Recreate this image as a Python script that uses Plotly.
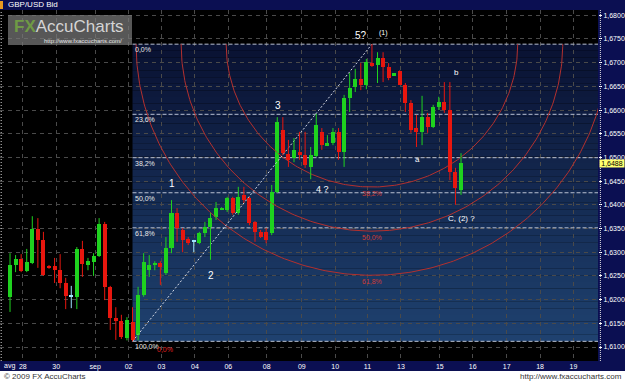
import math
import plotly.graph_objects as go

# ---------------- data (GBP/USD Bid, 4h candles) ----------------
opens = [
    1.6206, 1.6273, 1.6286, 1.6260, 1.6277, 1.6349, 1.6326, 1.6271, 1.6271, 1.6262,
    1.6235, 1.6206, 1.6206, 1.6307, 1.6273, 1.6279, 1.6292, 1.6360, 1.6227, 1.6161,
    1.6155, 1.6119, 1.6153, 1.6125, 1.6210, 1.6262, 1.6275, 1.6277, 1.6256, 1.6309,
    1.6383, 1.6347, 1.6328, 1.6322, 1.6319, 1.6341, 1.6353, 1.6374, 1.6391, 1.6389,
    1.6414, 1.6383, 1.6421, 1.6414, 1.6364, 1.6343, 1.6343, 1.6341, 1.6427, 1.6558,
    1.6507, 1.6499, 1.6511, 1.6505, 1.6480, 1.6503, 1.6554, 1.6526, 1.6530, 1.6554,
    1.6511, 1.6625, 1.6649, 1.6665, 1.6653, 1.6699, 1.6695, 1.6710, 1.6691, 1.6672,
    1.6682, 1.6653, 1.6615, 1.6562, 1.6554, 1.6585, 1.6564, 1.6606, 1.6617, 1.6600,
    1.6469, 1.6431]
highs = [
    1.6298, 1.6294, 1.6296, 1.6307, 1.6376, 1.6372, 1.6343, 1.6273, 1.6288, 1.6296,
    1.6246, 1.6229, 1.6311, 1.6324, 1.6288, 1.6298, 1.6372, 1.6364, 1.6229, 1.6184,
    1.6168, 1.6163, 1.6184, 1.6227, 1.6298, 1.6294, 1.6281, 1.6281, 1.6332, 1.6410,
    1.6393, 1.6351, 1.6332, 1.6326, 1.6343, 1.6364, 1.6383, 1.6406, 1.6395, 1.6417,
    1.6417, 1.6438, 1.6438, 1.6417, 1.6366, 1.6347, 1.6351, 1.6442, 1.6585, 1.6585,
    1.6537, 1.6541, 1.6554, 1.6554, 1.6522, 1.6592, 1.6562, 1.6547, 1.6562, 1.6562,
    1.6632, 1.6678, 1.6687, 1.6699, 1.6708, 1.6739, 1.6722, 1.6722, 1.6699, 1.6678,
    1.6684, 1.6657, 1.6621, 1.6590, 1.6630, 1.6594, 1.6611, 1.6628, 1.6659, 1.6659,
    1.6478, 1.6509]
lows = [
    1.6174, 1.6258, 1.6258, 1.6258, 1.6275, 1.6267, 1.6250, 1.6265, 1.6235, 1.6224,
    1.6180, 1.6182, 1.6180, 1.6248, 1.6262, 1.6250, 1.6290, 1.6199, 1.6136, 1.6115,
    1.6117, 1.6114, 1.6112, 1.6114, 1.6206, 1.6248, 1.6262, 1.6231, 1.6252, 1.6298,
    1.6322, 1.6300, 1.6315, 1.6300, 1.6317, 1.6332, 1.6284, 1.6368, 1.6389, 1.6385,
    1.6379, 1.6379, 1.6404, 1.6357, 1.6322, 1.6330, 1.6319, 1.6336, 1.6425, 1.6505,
    1.6480, 1.6490, 1.6495, 1.6478, 1.6454, 1.6501, 1.6516, 1.6524, 1.6526, 1.6495,
    1.6480, 1.6596, 1.6638, 1.6642, 1.6644, 1.6691, 1.6657, 1.6659, 1.6663, 1.6672,
    1.6653, 1.6596, 1.6552, 1.6522, 1.6526, 1.6552, 1.6562, 1.6600, 1.6594, 1.6452,
    1.6400, 1.6421]
closes = [
    1.6273, 1.6286, 1.6260, 1.6279, 1.6349, 1.6326, 1.6252, 1.6267, 1.6262, 1.6235,
    1.6208, 1.6206, 1.6307, 1.6275, 1.6281, 1.6292, 1.6360, 1.6227, 1.6161, 1.6155,
    1.6121, 1.6157, 1.6115, 1.6210, 1.6279, 1.6273, 1.6277, 1.6269, 1.6309, 1.6383,
    1.6351, 1.6326, 1.6319, 1.6322, 1.6341, 1.6353, 1.6372, 1.6393, 1.6393, 1.6414,
    1.6383, 1.6417, 1.6410, 1.6362, 1.6343, 1.6332, 1.6326, 1.6427, 1.6575, 1.6509,
    1.6495, 1.6516, 1.6505, 1.6484, 1.6505, 1.6568, 1.6526, 1.6530, 1.6554, 1.6511,
    1.6625, 1.6646, 1.6665, 1.6653, 1.6701, 1.6695, 1.6710, 1.6691, 1.6668, 1.6678,
    1.6653, 1.6615, 1.6558, 1.6554, 1.6585, 1.6564, 1.6606, 1.6617, 1.6600, 1.6469,
    1.6435, 1.6488]

tick_pos = [2.3, 8.3, 15.3, 21.3, 27.2, 33.2, 39.2, 46.1, 52.4, 58.4,
            64.2, 70.2, 77.2, 83.1, 89.2, 95.2, 101.2]
tick_text = ["28", "30", "sep", "02", "03", "04", "06", "08", "09", "10",
             "11", "13", "15", "16", "17", "18", "19"]

fib_ratios = [0.0, 0.236, 0.382, 0.5, 0.618, 1.0]
fib_labels = ["0,0%", "23,6%", "38,2%", "50,0%", "61,8%", "100,0%"]
arc_ratios = [0.382, 0.5, 0.618]
arc_labels = ["38,2%", "50,0%", "61,8%"]

wave_text = ["5?", "(1)", "3", "1", "2", "4 ?", "a", "b", "C, (2) ?"]
wave_x = [63.0, 67.0, 48.1, 29.1, 36.1, 56.2, 73.1, 80.1, 81.0]
wave_y = [1.6758, 1.6763, 1.6609, 1.6446, 1.6250, 1.6433, 1.6495, 1.6680, 1.6372]
wave_size = [10, 7, 10, 10, 10, 9, 8, 8, 8]

# ---------------- layout constants ----------------
W, H = 625, 382
ML, MR, MT, MB = 0, 27, 10, 21
PW, PH = W - ML - MR, H - MT - MB
XR = [-1.8, 105.6]
YR = [1.60705, 1.68111]
px_x = PW / (XR[1] - XR[0])
px_y = PH / (YR[1] - YR[0])
ARC_SQUASH = 0.98

NAVY = "#0b0f52"
GREEN = "#1fd21f"
RED = "#e8170f"
CYAN = "#9fe6ff"
ARC = "#b3302e"
FONT = "Liberation Sans"

idx = list(range(len(opens)))

def ccol(o, c):
    if c > o:
        return GREEN
    if c < o:
        return RED
    return CYAN

colors = [ccol(o, c) for o, c in zip(opens, closes)]
min_h = 1.0 / px_y
bases = [min(o, c) for o, c in zip(opens, closes)]
heights = [max(abs(c - o), min_h) for o, c in zip(opens, closes)]

# fibonacci from data extremes
lo_i = min(idx, key=lambda i: lows[i])
hi_i = max(idx, key=lambda i: highs[i])
lo, hi = lows[lo_i], highs[hi_i]
rng = hi - lo
dist = math.hypot((hi_i - lo_i) * px_x, rng * px_y)

fig = go.Figure()

# fib arcs (lower halves, centred on the swing high)
NA = 240
for r in arc_ratios:
    R = r * dist
    rx, ry = R / px_x, R * ARC_SQUASH / px_y
    ax, ay = [], []
    for k in range(NA + 1):
        t = math.pi + math.pi * k / NA
        ax.append(hi_i + rx * math.cos(t))
        ay.append(hi + ry * math.sin(t))
    fig.add_trace(go.Scatter(x=ax, y=ay, mode="lines",
                             line=dict(color=ARC, width=1), hoverinfo="skip"))

# trend line
fig.add_trace(go.Scatter(x=[lo_i, hi_i], y=[lo, hi], mode="lines",
                         line=dict(color="#d8dce8", width=1, dash="2px,2px"),
                         hoverinfo="skip"))

# wicks
for col in (GREEN, RED, CYAN):
    wx, wy = [], []
    for i in idx:
        if colors[i] == col:
            wx += [i, i, None]
            wy += [lows[i], highs[i], None]
    fig.add_trace(go.Scatter(x=wx, y=wy, mode="lines",
                             line=dict(color=col, width=1), hoverinfo="skip"))

# bodies
fig.add_trace(go.Bar(x=idx, y=heights, base=bases, width=0.72,
                     marker=dict(color=colors, line=dict(width=0))))

shapes = []
# gradient band
N = 45
c_top = (9, 17, 50)
c_bot = (31, 66, 112)
for k in range(N):
    t = (k + 0.5) / N
    col = tuple(int(round(c_top[j] + (c_bot[j] - c_top[j]) * t)) for j in range(3))
    y1 = hi - rng * k / N
    y0 = hi - rng * (k + 1) / N
    shapes.append(dict(type="rect", xref="x", yref="y", x0=lo_i, x1=XR[1] + 5,
                       y0=y0, y1=y1, fillcolor="rgb(%d,%d,%d)" % col,
                       line=dict(width=0), layer="below"))
# fib level lines
for r in fib_ratios:
    lv = hi - rng * r
    shapes.append(dict(type="line", xref="x", yref="y", x0=lo_i, x1=XR[1] + 5,
                       y0=lv, y1=lv, line=dict(color="#b9c1d2", width=1, dash="4px,2px"),
                       layer="between"))

# chrome: left dotted line, right axis line
shapes.append(dict(type="line", xref="paper", yref="paper", x0=0.002, x1=0.002, y0=0, y1=1,
                   line=dict(color="#d0d0d0", width=1, dash="1px,2px")))
shapes.append(dict(type="line", xref="paper", yref="paper", x0=1.004, x1=1.004, y0=0, y1=1,
                   line=dict(color="#e0e0e0", width=1, dash="1px,1px")))
# bottom white strip
shapes.append(dict(type="rect", xref="paper", yref="paper", x0=-0.01, x1=1.1,
                   y0=-(MB + 5) / PH, y1=-10 / PH, fillcolor="white", line=dict(width=0)))
# title marker
shapes.append(dict(type="rect", xref="paper", yref="paper", x0=0, x1=3 / PW,
                   y0=1 + 1 / PH, y1=1 + 9 / PH, fillcolor="#e89a20", line=dict(width=0)))
# logo box
shapes.append(dict(type="rect", xref="paper", yref="paper", x0=8 / PW, x1=132 / PW,
                   y0=1 - 35 / PH, y1=1 - 5 / PH, fillcolor="rgba(120,120,120,0.72)",
                   line=dict(width=0)))

ann = []
for r, t in zip(fib_ratios, fib_labels):
    ann.append(dict(x=lo_i, y=hi - rng * r, xref="x", yref="y", text=t, showarrow=False,
                    xanchor="left", yanchor="top", xshift=0, yshift=0,
                    font=dict(family=FONT, size=7, color="#e8e8e8")))
for r, t in zip(arc_ratios, arc_labels):
    R = r * dist * ARC_SQUASH
    ann.append(dict(x=hi_i, y=hi - R / px_y, xref="x", yref="y", text=t, showarrow=False,
                    xanchor="center", yanchor="top", yshift=-1,
                    font=dict(family=FONT, size=7, color="#d03a36")))
ann.append(dict(x=lo_i + 4.1, y=lo, xref="x", yref="y", text="0,0%", showarrow=False,
                xanchor="left", yanchor="top", yshift=-3,
                font=dict(family=FONT, size=7, color="#e02020")))
for t, x, y, s in zip(wave_text, wave_x, wave_y, wave_size):
    ann.append(dict(x=x, y=y, xref="x", yref="y", text=t, showarrow=False,
                    xanchor="center", yanchor="middle",
                    font=dict(family=FONT, size=s, color="white")))

# title / logo / footer
ann.append(dict(x=6 / PW, y=1 + 5 / PH, xref="paper", yref="paper", text="GBP/USD Bid",
                showarrow=False, xanchor="left", yanchor="middle",
                font=dict(family=FONT, size=8, color="white")))
ann.append(dict(x=12 / PW, y=1 - 17 / PH, xref="paper", yref="paper",
                text="<b><span style='color:#6f9a45'>FX</span></b>"
                     "<span style='color:#d4d4d4'>AccuCharts</span>",
                showarrow=False, xanchor="left", yanchor="middle",
                font=dict(family=FONT, size=17)))
ann.append(dict(x=124 / PW, y=1 - 31 / PH, xref="paper", yref="paper",
                text="http://www.fxaccucharts.com/", showarrow=False,
                xanchor="right", yanchor="middle",
                font=dict(family=FONT, size=6, color="#e6e6e6")))
ann.append(dict(x=2 / PW, y=-5 / PH, xref="paper", yref="paper", text="avg",
                showarrow=False, xanchor="left", yanchor="middle",
                font=dict(family=FONT, size=7, color="white")))
ann.append(dict(x=2 / PW, y=-16 / PH, xref="paper", yref="paper",
                text="© 2009 FX AccuCharts", showarrow=False, xanchor="left",
                yanchor="middle", font=dict(family=FONT, size=8, color="#333333")))
ann.append(dict(x=(W - 1) / PW, y=-16 / PH, xref="paper", yref="paper",
                text="http://www.fxaccucharts.com", showarrow=False, xanchor="right",
                yanchor="middle", font=dict(family=FONT, size=8, color="#333333")))
# last price tag
ann.append(dict(x=1 + 1 / PW, y=closes[-1], xref="paper", yref="y",
                text=("%.4f" % closes[-1]).replace(".", ","), showarrow=False,
                xanchor="left", yanchor="middle", bgcolor="#ffff70", borderpad=0,
                width=24, font=dict(family=FONT, size=7, color="black")))

fig.update_layout(
    width=W, height=H, margin=dict(l=ML, r=MR, t=MT, b=MB, pad=0),
    paper_bgcolor=NAVY, plot_bgcolor="black", showlegend=False,
    separators=",.", bargap=0, shapes=shapes, annotations=ann,
    xaxis=dict(range=XR, tickmode="array", tickvals=tick_pos, ticktext=tick_text,
               showgrid=True, gridcolor="#4a4a4a", griddash="4px,4px", gridwidth=1,
               zeroline=False, ticks="", showline=False, fixedrange=True,
               tickfont=dict(family=FONT, size=7, color="white")),
    yaxis=dict(range=YR, side="right", tick0=1.61, dtick=0.005, tickformat=".4f",
               showgrid=True, gridcolor="#4a4a4a", griddash="4px,4px", gridwidth=1,
               zeroline=False, ticks="outside", ticklen=3, tickcolor="white",
               showline=False, fixedrange=True,
               tickfont=dict(family=FONT, size=7, color="white")),
)

fig.write_html("out.html", config={"displayModeBar": False})
